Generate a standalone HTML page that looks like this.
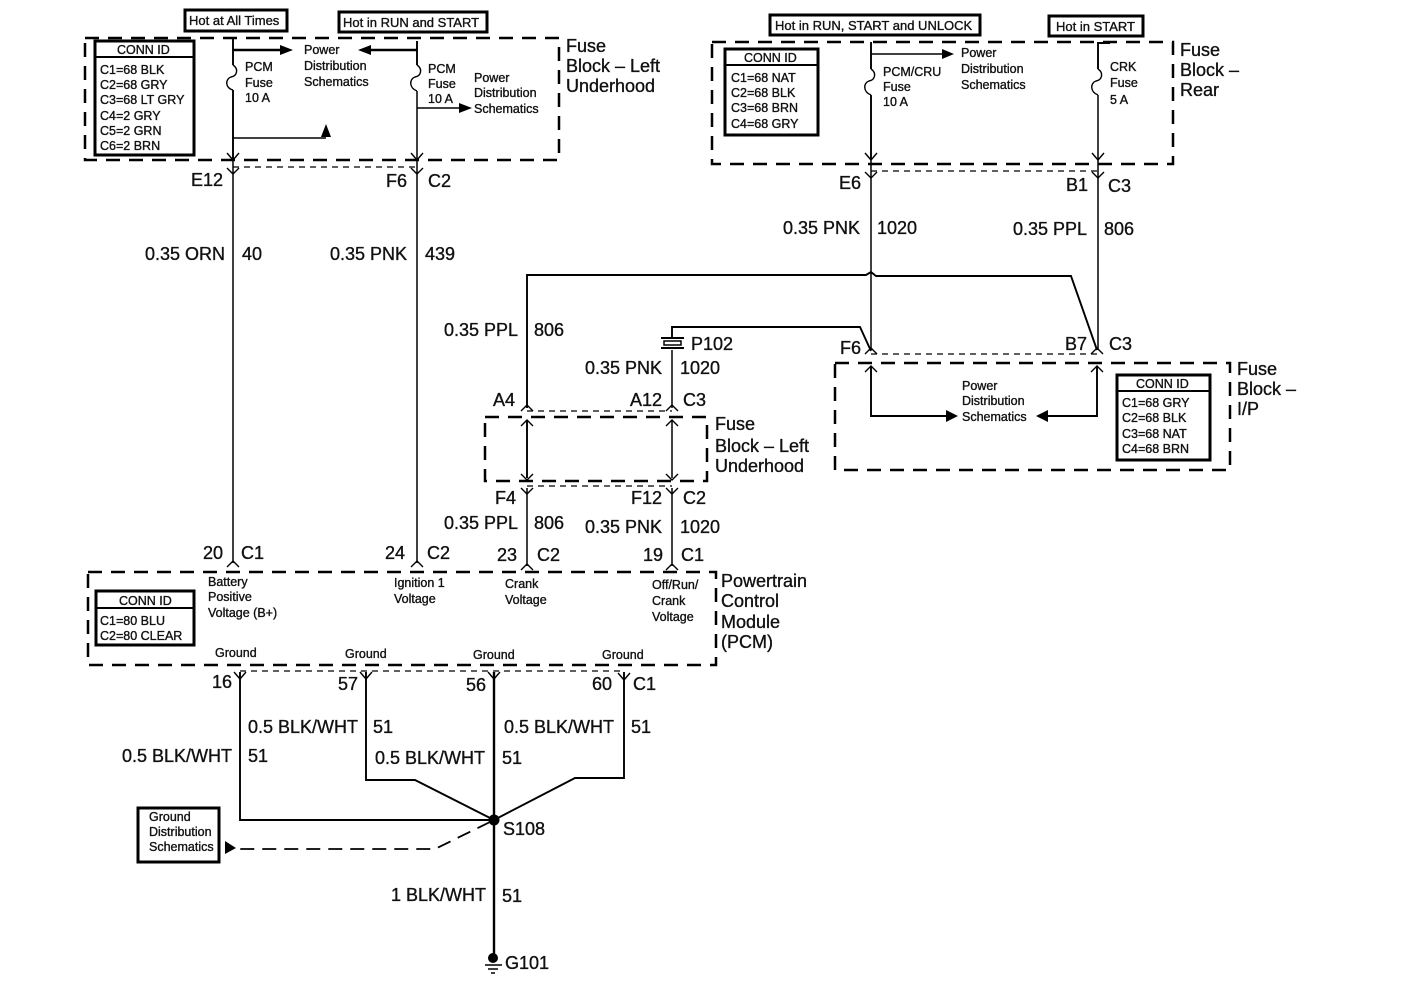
<!DOCTYPE html>
<html><head><meta charset="utf-8"><style>
html,body{margin:0;padding:0;background:#fff}
svg{display:block}
text{font-family:"Liberation Sans",sans-serif;fill:#111;stroke:#111;stroke-width:.35}
.l{font-size:18px}.s{font-size:12.5px}.c{font-size:12.5px}.m{font-size:13px}
.w{fill:none;stroke:#000;stroke-width:1.5}.t{fill:none;stroke:#000;stroke-width:2.4}.h{fill:none;stroke:#000;stroke-width:1.9}
.b{fill:#fff;stroke:#000;stroke-width:3}.d{fill:none;stroke:#000;stroke-width:2.5;stroke-dasharray:14 9}
.e{fill:none;stroke:#000;stroke-width:1.2;stroke-dasharray:6 5}
.a{fill:#000;stroke:none}.v{fill:none;stroke:#000;stroke-width:1.4}
</style></head><body>
<svg width="1408" height="1000" viewBox="0 0 1408 1000" xmlns="http://www.w3.org/2000/svg">
<rect width="1408" height="1000" fill="#fff"/>
<!-- dashed boxes -->
<rect class="d" x="85" y="38" width="474" height="122"/>
<rect class="d" x="712" y="42" width="461" height="122"/>
<rect class="d" x="835" y="363" width="395" height="107"/>
<rect class="d" x="485" y="417" width="222" height="64"/>
<rect class="d" x="88" y="572" width="628" height="93"/>
<!-- thin dashed splice lines -->
<path class="e" d="M233 167H418M871 171H1098M527 411H672M527 486H672M871 354H1097M240 671H624"/>
<!-- hot boxes -->
<rect class="b" x="185" y="10" width="102" height="21"/>
<rect class="b" x="339" y="12" width="148" height="20"/>
<rect class="b" x="770" y="15" width="210" height="20"/>
<rect class="b" x="1049" y="16" width="94" height="20"/>
<g><text x="189" y="25" class="m">Hot at All Times</text><text x="343" y="27" class="m">Hot in RUN and START</text><text x="775" y="30" class="m">Hot in RUN, START and UNLOCK</text><text x="1056" y="31" class="m">Hot in START</text></g>
<!-- conn boxes -->
<rect class="b" x="95" y="41" width="99" height="114"/><path class="h" d="M95 57H194"/>
<rect class="b" x="725" y="49" width="93" height="86"/><path class="h" d="M725 65H818"/>
<rect class="b" x="1117" y="375" width="93" height="85"/><path class="h" d="M1117 391H1210"/>
<rect class="b" x="96" y="591" width="98" height="54"/><path class="h" d="M96 608H194"/>
<rect class="b" x="138" y="808" width="81" height="54"/>
<g>
<text class="c" x="117" y="54">CONN ID</text><text class="c" x="100" y="74">C1=68 BLK</text><text class="c" x="100" y="89">C2=68 GRY</text><text class="c" x="100" y="104">C3=68 LT GRY</text><text class="c" x="100" y="120">C4=2 GRY</text><text class="c" x="100" y="135">C5=2 GRN</text><text class="c" x="100" y="150">C6=2 BRN</text>
<text class="c" x="744" y="62">CONN ID</text><text class="c" x="731" y="82">C1=68 NAT</text><text class="c" x="731" y="97">C2=68 BLK</text><text class="c" x="731" y="112">C3=68 BRN</text><text class="c" x="731" y="128">C4=68 GRY</text>
<text class="c" x="1136" y="388">CONN ID</text><text class="c" x="1122" y="407">C1=68 GRY</text><text class="c" x="1122" y="422">C2=68 BLK</text><text class="c" x="1122" y="438">C3=68 NAT</text><text class="c" x="1122" y="453">C4=68 BRN</text>
<text class="c" x="119" y="605">CONN ID</text><text class="c" x="100" y="625">C1=80 BLU</text><text class="c" x="100" y="640">C2=80 CLEAR</text>
</g>
<!-- wires -->
<path class="h" d="M233 38V65M233 90V158"/><path class="v" d="M233 65C239 69 237 76 231 77C225 79 225 88 233 90"/>
<path class="w" d="M233 158V563"/>
<path class="t" d="M233 50H284"/><path class="a" d="M293 50L280 45V55Z"/>
<path class="w" d="M233 138H326"/><path class="a" d="M326 124L321 137H331Z"/>
<path class="h" d="M417 41V65"/><path class="w" d="M417 91V563M417 108H462"/><path class="t" d="M417 50H366"/>
<path class="a" d="M358 50L371 45V55Z"/><path class="a" d="M472 108L459 103V113Z"/>
<path class="v" d="M417 65C423 69 421 76 415 77C409 79 409 88 417 91"/>
<path class="h" d="M871 42V69M871 95V160"/><path class="v" d="M871 69C877 73 875 80 869 81C863 83 863 92 871 95"/>
<path class="w" d="M871 54H945M871 160V350"/><path class="a" d="M954 54L942 49V59Z"/>
<path class="h" d="M1110 43H1098V69"/><path class="w" d="M1098 95V350"/><path class="v" d="M1098 69C1104 73 1102 80 1096 81C1090 83 1090 92 1098 95"/>
<!-- harness -->
<path class="h" d="M527 408V275H866L871 272L876 276H1071L1097 350"/>
<path class="h" d="M672 338V327H860L871 351"/>
<path class="w" d="M672 350V408"/>
<path class="h" d="M527 420V478"/><path class="w" d="M672 420V478M527 488V566M672 488V566"/>
<path class="h" d="M871 366V416H950M1097 366V416H1045"/>
<path class="a" d="M958 416L946 410V422Z"/><path class="a" d="M1036 416L1048 410V422Z"/>
<path class="h" d="M240 672V820H494M366 672V780H415L494 820M624 672V778H575L494 820"/>
<path class="t" d="M494 672V955"/>
<circle cx="494" cy="820" r="5.5" fill="#000"/>
<path fill="none" stroke="#000" stroke-width="1.8" stroke-dasharray="14 8" d="M490 822L435 849H235"/>
<path class="a" d="M225 841V854L236 848Z"/>
<!-- connector chevrons -->
<path class="v" d="M227 153L233 160L239 153M227 168L233 174L239 168M411 153L417 160L423 153M411 168L417 174L423 168M865 153L871 160L877 153M865 172L871 178L877 172M1092 153L1098 160L1104 153M1092 172L1098 178L1104 172M521 411L527 405L533 411M666 411L672 405L678 411M521 426L527 420L533 426M666 426L672 420L678 426M521 474L527 480L533 474M666 474L672 480L678 474M521 488L527 494L533 488M666 488L672 494L678 488M865 354L871 348L877 354M1091 354L1097 348L1103 354M865 372L871 366L877 372M1091 372L1097 366L1103 372M227 567L233 561L239 567M411 567L417 561L423 567M521 570L527 564L533 570M666 570L672 564L678 570M234 672L240 679L246 672M360 672L366 679L372 672M488 672L494 679L500 672M618 673L624 680L630 673"/>
<!-- P102 -->
<path class="h" d="M661 338H684M661 348H684"/><rect x="664" y="341" width="17" height="4" fill="none" stroke="#000" stroke-width="1.5"/>
<!-- ground -->
<circle cx="493" cy="958" r="5" fill="#000"/><path class="w" d="M485 965H502M488 969H498M491 973H495"/>
<!-- small labels -->
<g>
<text class="s" x="245" y="71">PCM</text><text class="s" x="245" y="87">Fuse</text><text class="s" x="245" y="102">10 A</text>
<text class="s" x="304" y="54">Power</text><text class="s" x="304" y="70">Distribution</text><text class="s" x="304" y="86">Schematics</text>
<text class="s" x="428" y="73">PCM</text><text class="s" x="428" y="88">Fuse</text><text class="s" x="428" y="103">10 A</text>
<text class="s" x="474" y="82">Power</text><text class="s" x="474" y="97">Distribution</text><text class="s" x="474" y="113">Schematics</text>
<text class="s" x="883" y="76">PCM/CRU</text><text class="s" x="883" y="91">Fuse</text><text class="s" x="883" y="106">10 A</text>
<text class="s" x="961" y="57">Power</text><text class="s" x="961" y="73">Distribution</text><text class="s" x="961" y="89">Schematics</text>
<text class="s" x="1110" y="71">CRK</text><text class="s" x="1110" y="87">Fuse</text><text class="s" x="1110" y="104">5 A</text>
<text class="s" x="962" y="390">Power</text><text class="s" x="962" y="405">Distribution</text><text class="s" x="962" y="421">Schematics</text>
<text class="s" x="208" y="586">Battery</text><text class="s" x="208" y="601">Positive</text><text class="s" x="208" y="617">Voltage (B+)</text>
<text class="s" x="394" y="587">Ignition 1</text><text class="s" x="394" y="603">Voltage</text>
<text class="s" x="505" y="588">Crank</text><text class="s" x="505" y="604">Voltage</text>
<text class="s" x="652" y="589">Off/Run/</text><text class="s" x="652" y="605">Crank</text><text class="s" x="652" y="621">Voltage</text>
<text class="s" x="215" y="657">Ground</text><text class="s" x="345" y="658">Ground</text><text class="s" x="473" y="659">Ground</text><text class="s" x="602" y="659">Ground</text>
<text class="s" x="149" y="821">Ground</text><text class="s" x="149" y="836">Distribution</text><text class="s" x="149" y="851">Schematics</text>
</g>
<!-- large labels -->
<g>
<text class="l" x="566" y="52">Fuse</text><text class="l" x="566" y="72">Block – Left</text><text class="l" x="566" y="92">Underhood</text>
<text class="l" x="1180" y="56">Fuse</text><text class="l" x="1180" y="76">Block –</text><text class="l" x="1180" y="96">Rear</text>
<text class="l" x="1237" y="375">Fuse</text><text class="l" x="1237" y="395">Block –</text><text class="l" x="1237" y="415">I/P</text>
<text class="l" x="715" y="430">Fuse</text><text class="l" x="715" y="452">Block – Left</text><text class="l" x="715" y="472">Underhood</text>
<text class="l" x="721" y="587">Powertrain</text><text class="l" x="721" y="607">Control</text><text class="l" x="721" y="628">Module</text><text class="l" x="721" y="648">(PCM)</text>
<text class="l" x="191" y="186">E12</text><text class="l" x="386" y="187">F6</text><text class="l" x="428" y="187">C2</text>
<text class="l" x="839" y="189">E6</text><text class="l" x="1066" y="191">B1</text><text class="l" x="1108" y="192">C3</text>
<text class="l" x="145" y="260">0.35 ORN</text><text class="l" x="242" y="260">40</text>
<text class="l" x="330" y="260">0.35 PNK</text><text class="l" x="425" y="260">439</text>
<text class="l" x="783" y="234">0.35 PNK</text><text class="l" x="877" y="234">1020</text>
<text class="l" x="1013" y="235">0.35 PPL</text><text class="l" x="1104" y="235">806</text>
<text class="l" x="444" y="336">0.35 PPL</text><text class="l" x="534" y="336">806</text>
<text class="l" x="691" y="350">P102</text>
<text class="l" x="585" y="374">0.35 PNK</text><text class="l" x="680" y="374">1020</text>
<text class="l" x="493" y="406">A4</text><text class="l" x="630" y="406">A12</text><text class="l" x="683" y="406">C3</text>
<text class="l" x="840" y="354">F6</text><text class="l" x="1065" y="350">B7</text><text class="l" x="1109" y="350">C3</text>
<text class="l" x="495" y="504">F4</text><text class="l" x="631" y="504">F12</text><text class="l" x="683" y="504">C2</text>
<text class="l" x="444" y="529">0.35 PPL</text><text class="l" x="534" y="529">806</text>
<text class="l" x="585" y="533">0.35 PNK</text><text class="l" x="680" y="533">1020</text>
<text class="l" x="203" y="559">20</text><text class="l" x="241" y="559">C1</text>
<text class="l" x="385" y="559">24</text><text class="l" x="427" y="559">C2</text>
<text class="l" x="497" y="561">23</text><text class="l" x="537" y="561">C2</text>
<text class="l" x="643" y="561">19</text><text class="l" x="681" y="561">C1</text>
<text class="l" x="212" y="688">16</text><text class="l" x="338" y="690">57</text><text class="l" x="466" y="691">56</text><text class="l" x="592" y="690">60</text><text class="l" x="633" y="690">C1</text>
<text class="l" x="248" y="733">0.5 BLK/WHT</text><text class="l" x="373" y="733">51</text>
<text class="l" x="504" y="733">0.5 BLK/WHT</text><text class="l" x="631" y="733">51</text>
<text class="l" x="122" y="762">0.5 BLK/WHT</text><text class="l" x="248" y="762">51</text>
<text class="l" x="375" y="764">0.5 BLK/WHT</text><text class="l" x="502" y="764">51</text>
<text class="l" x="503" y="835">S108</text>
<text class="l" x="391" y="901">1 BLK/WHT</text><text class="l" x="502" y="902">51</text>
<text class="l" x="505" y="969">G101</text>
</g>
</svg>
</body></html>
